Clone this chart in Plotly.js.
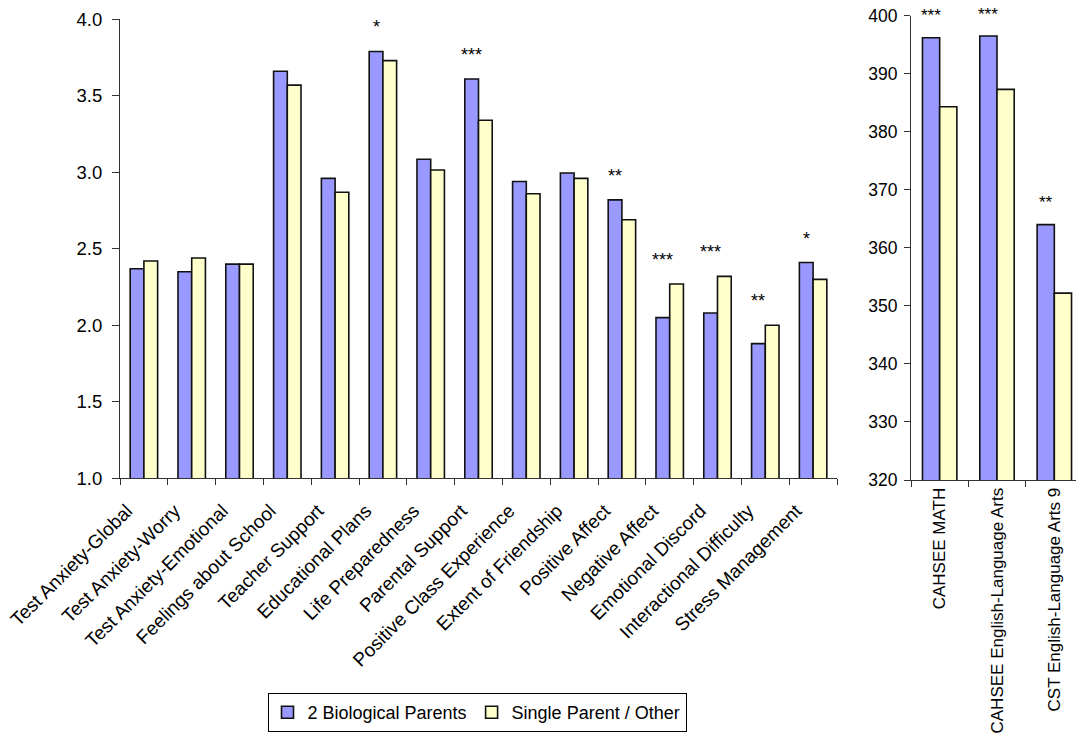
<!DOCTYPE html>
<html>
<head>
<meta charset="utf-8">
<script src="https://cdn.plot.ly/plotly-3.0.1.min.js"></script>
<style>html,body{margin:0;padding:0;background:#fff;}#chart{width:1076px;height:736px;}</style>
</head>
<body>
<div id="chart"></div>
<script>
// ---- Data ----
const scaleCategories = ["Test Anxiety-Global", "Test Anxiety-Worry", "Test Anxiety-Emotional", "Feelings about School",
  "Teacher Support", "Educational Plans", "Life Preparedness", "Parental Support", "Positive Class Experience",
  "Extent of Friendship", "Positive Affect", "Negative Affect", "Emotional Discord", "Interactional Difficulty",
  "Stress Management"];
const scaleTwoParents = [2.37, 2.35, 2.40, 3.66, 2.96, 3.79, 3.085, 3.61, 2.94, 2.995, 2.82, 2.05, 2.08, 1.88, 2.41];
const scaleSingleOther = [2.42, 2.44, 2.40, 3.57, 2.87, 3.73, 3.015, 3.34, 2.86, 2.96, 2.69, 2.27, 2.32, 2.00, 2.30];
const scaleStars = ["", "", "", "", "", "*", "", "***", "", "", "**", "***", "***", "**", "*"];

const testCategories = ["CAHSEE MATH", "CAHSEE English-Language Arts", "CST English-Language Arts 9"];
const testTwoParents = [396.2, 396.5, 364.0];
const testSingleOther = [384.3, 387.3, 352.2];
const testStars = ["***", "***", "**"];

const seriesNames = ["2 Biological Parents", "Single Parent / Other"];
const leftTicks = [1.0, 1.5, 2.0, 2.5, 3.0, 3.5, 4.0];
const rightTicks = [320, 330, 340, 350, 360, 370, 380, 390, 400];

// ---- Style ----
const FONT = "Liberation Sans, Arial, sans-serif";
const BLUE = "#9999FF", YELLOW = "#FFFFCC";
const LINE = {color: "#111", width: 1.6};
const wL = 0.287, wR = 0.30;

const traces = [
  {type: "bar", name: seriesNames[0], x: scaleCategories, y: scaleTwoParents, xaxis: "x", yaxis: "y",
   width: wL, offset: -wL, marker: {color: BLUE, line: LINE}, legendgroup: "a", hoverinfo: "y"},
  {type: "bar", name: seriesNames[1], x: scaleCategories, y: scaleSingleOther, xaxis: "x", yaxis: "y",
   width: wL, offset: 0, marker: {color: YELLOW, line: LINE}, legendgroup: "b", hoverinfo: "y"},
  {type: "bar", name: seriesNames[0], x: testCategories, y: testTwoParents, xaxis: "x2", yaxis: "y2",
   width: wR, offset: -wR, marker: {color: BLUE, line: LINE}, legendgroup: "a", showlegend: false, hoverinfo: "y"},
  {type: "bar", name: seriesNames[1], x: testCategories, y: testSingleOther, xaxis: "x2", yaxis: "y2",
   width: wR, offset: 0, marker: {color: YELLOW, line: LINE}, legendgroup: "b", showlegend: false, hoverinfo: "y"}
];

const annotations = [];
scaleStars.forEach((s, i) => {
  if (!s) return;
  annotations.push({xref: "x", yref: "y", x: i - wL / 2, y: Math.max(scaleTwoParents[i], scaleSingleOther[i]),
    text: s, showarrow: false, yanchor: "middle", yshift: 24, font: {family: FONT, size: 18, color: "#000"}});
});
testStars.forEach((s, i) => {
  if (!s) return;
  annotations.push({xref: "x2", yref: "y2", x: i - wR / 2, y: Math.max(testTwoParents[i], testSingleOther[i]),
    text: s, showarrow: false, yanchor: "middle", yshift: 22, font: {family: FONT, size: 17, color: "#000"}});
});

const W = 1076, H = 736;
const axisCommon = {showgrid: false, zeroline: false, showline: true, linecolor: "#333", linewidth: 1,
  ticks: "outside", tickcolor: "#333", tickwidth: 1, tickfont: {family: FONT, size: 17.5, color: "#000"}};

const layout = {
  width: W, height: H,
  margin: {l: 0, r: 0, t: 0, b: 0},
  paper_bgcolor: "#fff", plot_bgcolor: "#fff",
  barmode: "overlay",
  font: {family: FONT, color: "#000"},
  showlegend: true,
  legend: {orientation: "h", x: 477 / W, xanchor: "center", y: 1 - 693 / H, yanchor: "top",
    bordercolor: "#000", borderwidth: 1, bgcolor: "#fff", font: {family: FONT, size: 18, color: "#000"},
    itemwidth: 30, tracegroupgap: 0},
  xaxis: Object.assign({}, axisCommon, {domain: [120 / W, 837 / W], anchor: "y", type: "category",
    range: [-0.5, scaleCategories.length - 0.5], tickson: "boundaries", ticklen: 6, tickangle: -45,
    tickfont: {family: FONT, size: 19, color: "#000"}, ticklabelshift: -17, ticklabelstandoff: 13}),
  yaxis: Object.assign({}, axisCommon, {domain: [1 - 478.3 / H, 1 - 19.3 / H], anchor: "x",
    range: [1, 4], tickvals: leftTicks, tickformat: ".1f", ticklen: 7, ticklabelstandoff: 6,
    tickfont: {family: FONT, size: 18.5, color: "#000"}}),
  xaxis2: Object.assign({}, axisCommon, {domain: [911 / W, 1], anchor: "y2", type: "category",
    range: [-0.5, 2.378], tickson: "boundaries", ticklen: 6, tickangle: -90,
    tickfont: {family: FONT, size: 17, color: "#000"}}),
  yaxis2: Object.assign({}, axisCommon, {domain: [1 - 480 / H, 1 - 15.7 / H], anchor: "x2",
    range: [320, 400], tickvals: rightTicks, ticklen: 6, ticklabelstandoff: 3}),
  annotations: annotations
};

Plotly.newPlot("chart", traces, layout, {displayModeBar: false, staticPlot: true});
</script>
</body>
</html>
